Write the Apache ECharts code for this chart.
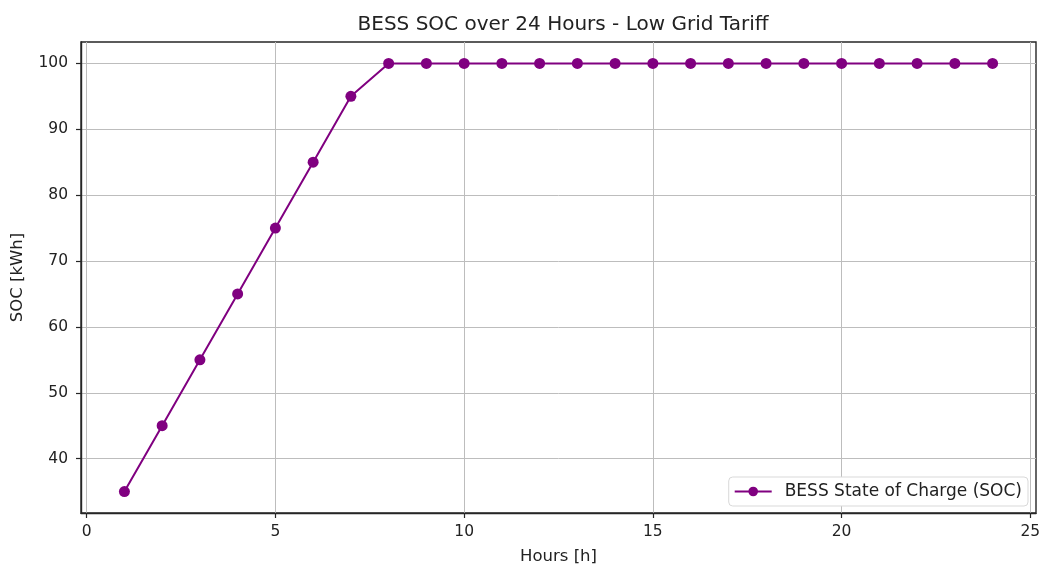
<!DOCTYPE html>
<html>
<head>
<meta charset="utf-8">
<script src="https://cdn.jsdelivr.net/npm/echarts@6/dist/echarts.min.js"></script>
<style>
  html, body { margin: 0; padding: 0; background: #fff; }
  #chart { width: 1044px; height: 570px; }
</style>
</head>
<body>
<div id="chart"></div>
<script>
// Hourly battery state of charge
const hours = [1, 2, 3, 4, 5, 6, 7, 8, 9, 10, 11, 12, 13, 14, 15, 16, 17, 18, 19, 20, 21, 22, 23, 24];
const socValues = [35, 45, 55, 65, 75, 85, 95, 100, 100, 100, 100, 100, 100, 100, 100, 100, 100, 100, 100, 100, 100, 100, 100, 100];
const xTicks = [0, 5, 10, 15, 20, 25];
const yTicks = [40, 50, 60, 70, 80, 90, 100];

const font = 'DejaVu Sans';
const chart = echarts.init(document.getElementById('chart'));

chart.setOption({
  animation: false,
  backgroundColor: '#ffffff',
  title: {
    text: 'BESS SOC over 24 Hours - Low Grid Tariff',
    left: 558,
    textAlign: 'center',
    top: 10,
    textStyle: { fontFamily: font, fontSize: 20, fontWeight: 'normal', color: '#222' }
  },
  grid: {
    left: 81, right: 8, top: 42, bottom: 54,
    show: true, borderColor: '#262626', borderWidth: 1.4, backgroundColor: 'transparent'
  },
  legend: {
    right: 16, bottom: 64,
    orient: 'vertical',
    itemWidth: 37, itemHeight: 12,
    padding: [6, 6, 6, 5],
    backgroundColor: '#fff',
    borderColor: '#d9d9d9', borderWidth: 1, borderRadius: 4,
    textStyle: { fontFamily: font, fontSize: 17, color: '#222', padding: [0, 0, 0, 8] },
    data: ['BESS State of Charge (SOC)']
  },
  xAxis: {
    type: 'value',
    min: -0.15, max: 25.15,
    name: 'Hours [h]',
    nameLocation: 'middle',
    nameGap: 35,
    nameTextStyle: { fontFamily: font, fontSize: 16.5, color: '#222' },
    axisLine: { show: true, onZero: false, lineStyle: { color: '#262626', width: 1.4 } },
    axisTick: { show: true, length: 5, customValues: xTicks, lineStyle: { color: '#262626', width: 1.2 } },
    axisLabel: { customValues: xTicks, fontFamily: font, fontSize: 15.5, color: '#222', margin: 11 },
    splitLine: { show: true, lineStyle: { color: '#bdbdbd', width: 1 } }
  },
  yAxis: {
    type: 'value',
    min: 31.75, max: 103.25,
    name: 'SOC [kWh]',
    nameLocation: 'middle',
    nameGap: 55,
    nameTextStyle: { fontFamily: font, fontSize: 16.5, color: '#222' },
    axisLine: { show: true, onZero: false, lineStyle: { color: '#262626', width: 1.4 } },
    axisTick: { show: true, length: 5, customValues: yTicks, lineStyle: { color: '#262626', width: 1.2 } },
    axisLabel: { customValues: yTicks, fontFamily: font, fontSize: 15.5, color: '#222', margin: 13 },
    splitLine: { show: true, lineStyle: { color: '#bdbdbd', width: 1 } }
  },
  series: [{
    name: 'BESS State of Charge (SOC)',
    type: 'line',
    data: hours.map((h, i) => [h, socValues[i]]),
    symbol: 'circle',
    symbolSize: 11,
    itemStyle: { color: '#800080' },
    lineStyle: { color: '#800080', width: 2 }
  }]
});
</script>
</body>
</html>
